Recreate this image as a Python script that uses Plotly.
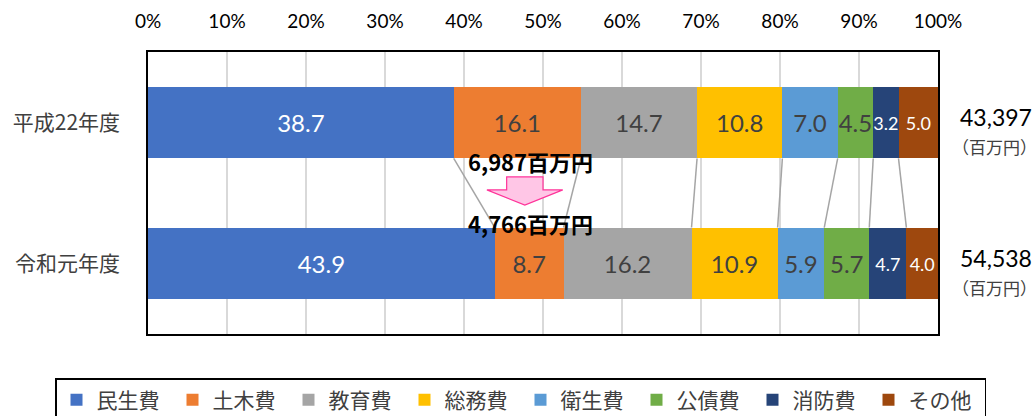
import plotly.graph_objects as go

categories = ["平成22年度", "令和元年度"]
series_names = ["民生費", "土木費", "教育費", "総務費", "衛生費", "公債費", "消防費", "その他"]
colors = ["#4472C4", "#ED7D31", "#A5A5A5", "#FFC000", "#5B9BD5", "#70AD47", "#264478", "#9E480E"]
values_h22 = [38.7, 16.1, 14.7, 10.8, 7.0, 4.5, 3.2, 5.0]
values_r1 = [43.9, 8.7, 16.2, 10.9, 5.9, 5.7, 4.7, 4.0]
totals = ["43,397", "54,538"]
doboku_amounts = ["6,987百万円", "4,766百万円"]
tick_vals = [0, 10, 20, 30, 40, 50, 60, 70, 80, 90, 100]
tick_text = [f"{v}%" for v in tick_vals]

text_colors = ["white", "#404040", "#404040", "#404040", "#404040", "#404040", "white", "white"]
FONT = "Lato, Noto Sans CJK JP, sans-serif"
JFONT = "Noto Sans CJK JP, sans-serif"
BAR_W = 0.51

fig = go.Figure()
for i, name in enumerate(series_names):
    vals = [values_h22[i], values_r1[i]]
    sizes = [18, 18] if name in ("消防費", "その他") else [24, 24]
    fig.add_trace(go.Bar(
        y=categories, x=vals, name=name, orientation="h",
        marker=dict(color=colors[i], line=dict(width=0)),
        width=BAR_W,
        text=[f"{v:.1f}" for v in vals],
        textposition="inside", insidetextanchor="middle",
        constraintext="none", textangle=0,
        textfont=dict(color=text_colors[i], size=sizes, family=FONT),
        hoverinfo="skip",
    ))

# connector lines between cumulative boundaries
cum_a, cum_b = 0.0, 0.0
for i in range(len(series_names) - 1):
    cum_a += values_h22[i]
    cum_b += values_r1[i]
    fig.add_shape(type="line", xref="x", yref="y",
                  x0=cum_a, y0=0 + BAR_W / 2, x1=cum_b, y1=1 - BAR_W / 2,
                  line=dict(color="#A5A5A5", width=1.5))

# pink down arrow
x_l, x_sl, x_sr, x_r, x_t = 42.9, 45.4, 50.0, 52.5, 47.7
y_top, y_mid, y_tip = 0.557, 0.511, 0.457
path = (f"M {x_sl} {y_top} L {x_sr} {y_top} L {x_sr} {y_mid} L {x_r} {y_mid} "
        f"L {x_t} {y_tip} L {x_l} {y_mid} L {x_sl} {y_mid} Z")
fig.add_shape(type="path", xref="x", yref="paper", path=path,
              fillcolor="#FFC6E6", line=dict(color="#FF3399", width=1.2))

fig.add_annotation(x=48.4, y=0.612, xref="x", yref="paper", text=f"<b>{doboku_amounts[0]}</b>",
                   showarrow=False, font=dict(size=22, color="black", family=JFONT))
fig.add_annotation(x=48.4, y=0.395, xref="x", yref="paper", text=f"<b>{doboku_amounts[1]}</b>",
                   showarrow=False, font=dict(size=22, color="black", family=JFONT))

# totals on right
for j in range(2):
    fig.add_annotation(x=1.073, y=categories[j], xref="paper", yref="y", yshift=6,
                       xanchor="center", text=totals[j], showarrow=False,
                       font=dict(size=23, color="black", family=FONT))
    fig.add_annotation(x=1.0709, y=categories[j], xref="paper", yref="y", yshift=-24,
                       xanchor="center", text="（百万円）", showarrow=False,
                       font=dict(size=17, color="#404040", family=JFONT))

fig.update_layout(
    barmode="stack",
    width=1036, height=416,
    margin=dict(l=148, r=98, t=52, b=82, autoexpand=False),
    paper_bgcolor="white", plot_bgcolor="white",
    font=dict(family=JFONT, color="#404040"),
    xaxis=dict(side="top", range=[0, 100], tickvals=tick_vals, ticktext=tick_text,
               showgrid=True, gridcolor="#D9D9D9", gridwidth=1.5,
               showline=True, linecolor="black", linewidth=1.5, mirror=True,
               ticks="", ticklabelstandoff=15, zeroline=False,
               tickfont=dict(size=19, color="black", family=FONT)),
    yaxis=dict(autorange="reversed", showline=True, linecolor="black",
               linewidth=1.5, mirror=True, ticks="", ticklabelstandoff=22,
               tickfont=dict(size=21, color="#404040", family=JFONT)),
    showlegend=True,
    legend=dict(orientation="h", xref="paper", yref="paper",
                x=(55 - 148) / 790, y=(334 - 378) / 282, xanchor="left", yanchor="top",
                bordercolor="black", borderwidth=1.5,
                entrywidth=71, entrywidthmode="pixels",
                font=dict(size=21, color="#404040", family=JFONT),
                traceorder="normal"),
)

fig.write_html("out.html", config={"displayModeBar": False},
               post_script="document.body.style.margin='0';document.body.style.overflow='hidden';")
